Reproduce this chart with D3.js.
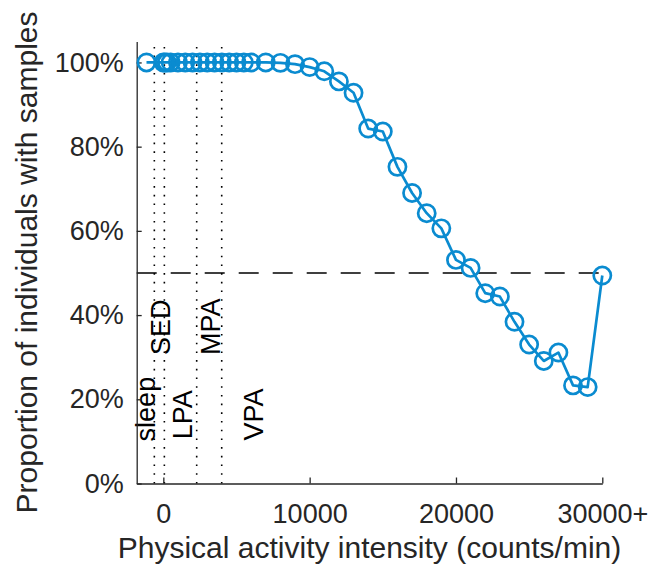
<!DOCTYPE html>
<html>
<head>
<meta charset="utf-8">
<script src="https://cdn.jsdelivr.net/npm/d3@7"></script>
<style>
  body { margin: 0; background: #fff; }
  svg { display: block; font-family: "Liberation Sans", Arial, sans-serif; }
</style>
</head>
<body>
<div id="chart"></div>
<script>
// intensity bins (counts/min), sleep sits left of zero
var counts = [-1150, 0, 100, 250, 500, 1000, 1500, 2000, 2500, 3000, 3500, 4000, 4500, 5000, 5500, 6000,
    7000, 8000, 9000, 10000, 11000, 12000, 13000, 14000, 15000, 16000, 17000, 18000, 19000, 20000,
    21000, 22000, 23000, 24000, 25000, 26000, 27000, 28000, 29000, 30000];
var proportion = [100, 100, 100, 100, 100, 100, 100, 100, 100, 100, 100, 100, 100, 100, 100, 100,
    100, 99.9, 99.6, 98.9, 97.9, 95.5, 92.8, 84.3, 83.6, 75.2, 69.0, 64.2, 60.6, 53.1,
    51.2, 45.2, 44.4, 38.4, 33.0, 29.1, 31.1, 23.3, 22.9, 49.4];

var xTicks = [0, 10000, 20000, 30000];
var xTickLabels = ["0", "10000", "20000", "30000+"];
var yTicks = [0, 20, 40, 60, 80, 100];

// cut-points between the activity classes
var cutPoints = [-615, 70, 2280, 3990];
var zoneNames = ["sleep", "SED", "LPA", "MPA", "VPA"];
var zoneX = [-570, 460, 1940, 3880, 6800];
var zoneY = [10, 30.5, 10.5, 30.5, 10.2];

var halfLine = 50;

var width = 658, height = 567;
var padding = {top: 41.4, right: 55.7, bottom: 83.5, left: 136.7};
var textColor = "#262626";
var lineColor = "#0a8bd0";

var svg = d3.select("#chart").append("svg")
    .attr("width", width)
    .attr("height", height);

var xScale = d3.scaleLinear()
    .domain([-1820, 30000])
    .range([padding.left, width - padding.right]);
var yScale = d3.scaleLinear()
    .domain([0, 105])
    .range([height - padding.bottom, padding.top]);

// dotted cut-point lines
svg.selectAll(".cut")
    .data(cutPoints)
    .enter().append("line")
    .attr("class", "cut")
    .attr("x1", function(d) { return xScale(d); })
    .attr("x2", function(d) { return xScale(d); })
    .attr("y1", yScale(0))
    .attr("y2", yScale(105))
    .attr("stroke", "#000")
    .attr("stroke-width", 1.6)
    .attr("stroke-dasharray", "1.6,7.1");

// 50% reference
svg.append("line")
    .attr("x1", xScale(-1820))
    .attr("x2", xScale(30000))
    .attr("y1", yScale(halfLine))
    .attr("y2", yScale(halfLine))
    .attr("stroke", "#000")
    .attr("stroke-width", 1.3)
    .attr("stroke-dasharray", "20,14");

// zone labels
svg.selectAll(".zone")
    .data(zoneNames)
    .enter().append("text")
    .attr("class", "zone")
    .attr("transform", function(d, i) {
        return "translate(" + xScale(zoneX[i]) + "," + yScale(zoneY[i]) + ") rotate(-90)";
    })
    .attr("font-size", 27)
    .attr("fill", "#000")
    .text(function(d) { return d; });

// axes
var xAxis = d3.axisBottom(xScale)
    .tickValues(xTicks)
    .tickSize(0)
    .tickPadding(20)
    .tickFormat(function(d, i) { return xTickLabels[i]; });

var gx = svg.append("g")
    .attr("transform", "translate(0," + yScale(0) + ")")
    .call(xAxis);
gx.select(".domain").attr("stroke", textColor).attr("stroke-width", 1.3);
gx.selectAll(".tick line").remove();
gx.selectAll(".tick").append("line")
    .attr("y2", -6)
    .attr("stroke", textColor)
    .attr("stroke-width", 1.3);
gx.selectAll("text").attr("font-size", 27).attr("fill", textColor).attr("font-family", null);

var yAxis = d3.axisLeft(yScale)
    .tickValues(yTicks)
    .tickSize(0)
    .tickPadding(13)
    .tickFormat(function(d) { return d + "%"; });

var gy = svg.append("g")
    .attr("transform", "translate(" + xScale(-1820) + ",0)")
    .call(yAxis);
gy.select(".domain").attr("stroke", textColor).attr("stroke-width", 1.3);
gy.selectAll(".tick line").remove();
gy.selectAll(".tick").append("line")
    .attr("x2", 5)
    .attr("stroke", textColor)
    .attr("stroke-width", 1.3);
gy.selectAll("text").attr("font-size", 27).attr("fill", textColor).attr("font-family", null);

// series
var points = counts.map(function(c, i) { return {x: c, y: proportion[i]}; });

var line = d3.line()
    .x(function(d) { return xScale(d.x); })
    .y(function(d) { return yScale(d.y); });

svg.append("path")
    .datum(points)
    .attr("fill", "none")
    .attr("stroke", lineColor)
    .attr("stroke-width", 2.7)
    .attr("stroke-linejoin", "round")
    .attr("d", line);

svg.selectAll(".pt")
    .data(points)
    .enter().append("circle")
    .attr("class", "pt")
    .attr("cx", function(d) { return xScale(d.x); })
    .attr("cy", function(d) { return yScale(d.y); })
    .attr("r", 8.6)
    .attr("fill", "none")
    .attr("stroke", lineColor)
    .attr("stroke-width", 2.7);

// axis labels
svg.append("text")
    .attr("x", (xScale(-1820) + xScale(30000)) / 2)
    .attr("y", 558)
    .attr("text-anchor", "middle")
    .attr("font-size", 30)
    .attr("fill", textColor)
    .text("Physical activity intensity (counts/min)");

svg.append("text")
    .attr("transform", "translate(37," + (yScale(0) + yScale(105)) / 2 + ") rotate(-90)")
    .attr("text-anchor", "middle")
    .attr("font-size", 30)
    .attr("fill", textColor)
    .text("Proportion of individuals with samples");
</script>
</body>
</html>
